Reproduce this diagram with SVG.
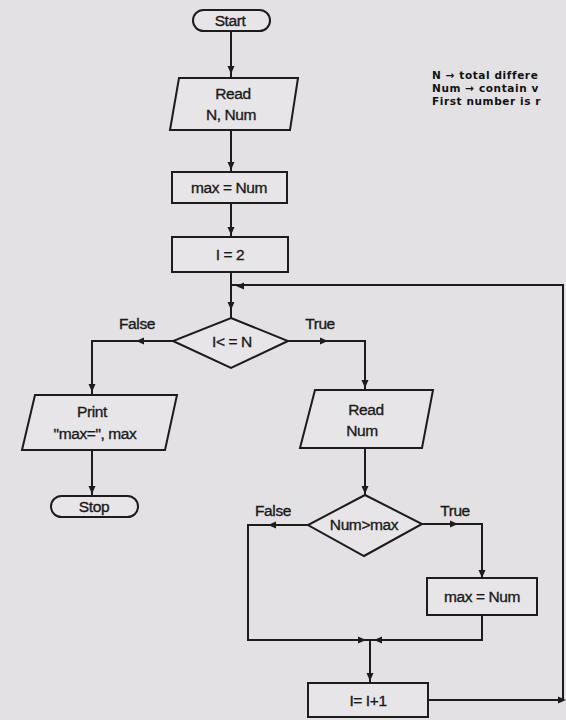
<svg xmlns="http://www.w3.org/2000/svg" xmlns:xlink="http://www.w3.org/1999/xlink" width="566" height="720" viewBox="0 0 566 720">
  <defs>
    <style>
      .bg { fill: #e3e1e3; }
      .shape { fill: #e7e5e7; stroke: #1c1c1c; stroke-width: 2; }
      .line { fill: none; stroke: #1c1c1c; stroke-width: 2; }
      .lbl { font-family: "Liberation Sans", Arial, sans-serif; font-size: 15.5px; fill: #1a1a1a; text-anchor: middle; letter-spacing: -0.4px; stroke: #1a1a1a; stroke-width: 0.35; }
      .note { font-family: "DejaVu Sans", "Liberation Sans", sans-serif; font-size: 10.5px; font-weight: bold; fill: #111; letter-spacing: 0.6px; }
    </style>
    <!-- filled arrowhead, tip at origin pointing along +x -->
    <path id="ah" d="M0,0 L-8,-3.5 L-8,3.5 Z" fill="#1c1c1c"/>
  </defs>

  <rect class="bg" x="0" y="0" width="566" height="720"/>

  <!-- connectors -->
  <g id="connectors">
    <path class="line" d="M231,31 V78"/>
    <use xlink:href="#ah" transform="translate(231,74) rotate(90)"/>
    <path class="line" d="M231,130 V172"/>
    <use xlink:href="#ah" transform="translate(231,170) rotate(90)"/>
    <path class="line" d="M231,203 V237"/>
    <use xlink:href="#ah" transform="translate(231,235) rotate(90)"/>
    <path class="line" d="M231,272 V318"/>
    <use xlink:href="#ah" transform="translate(231,310) rotate(90)"/>

    <!-- loop back from I = I+1 -->
    <path class="line" d="M428,700 H563 V285 H231"/>
    <use xlink:href="#ah" transform="translate(566,700)"/>
    <use xlink:href="#ah" transform="translate(236,286) rotate(180)"/>

    <!-- I<=N branches -->
    <path class="line" d="M173,341 H92 V395"/>
    <use xlink:href="#ah" transform="translate(136,341) rotate(180)"/>
    <use xlink:href="#ah" transform="translate(92,392) rotate(90)"/>
    <path class="line" d="M288,341 H365 V390"/>
    <use xlink:href="#ah" transform="translate(328,341)"/>
    <use xlink:href="#ah" transform="translate(365,388) rotate(90)"/>

    <path class="line" d="M92,450 V496"/>
    <use xlink:href="#ah" transform="translate(92,494) rotate(90)"/>

    <path class="line" d="M365,448 V495"/>
    <use xlink:href="#ah" transform="translate(365,494) rotate(90)"/>

    <!-- Num>max branches -->
    <path class="line" d="M308,525 H248 V640 H482 V615"/>
    <use xlink:href="#ah" transform="translate(268,525) rotate(180)"/>
    <path class="line" d="M422,524 H482 V578"/>
    <use xlink:href="#ah" transform="translate(458,524)"/>
    <use xlink:href="#ah" transform="translate(482,578) rotate(90)"/>
    <use xlink:href="#ah" transform="translate(366,640)"/>
    <use xlink:href="#ah" transform="translate(374,640) rotate(180)"/>
    <path class="line" d="M370,640 V683"/>
    <use xlink:href="#ah" transform="translate(370,681) rotate(90)"/>

    <text class="lbl" x="137" y="329">False</text>
    <text class="lbl" x="320" y="329">True</text>
    <text class="lbl" x="273" y="516">False</text>
    <text class="lbl" x="455" y="516">True</text>
  </g>

  <g id="start">
    <rect class="shape" x="193" y="10" width="77" height="21" rx="10.5"/>
    <text class="lbl" x="230" y="26">Start</text>
  </g>

  <g id="read-n-num">
    <polygon class="shape" points="179,78 298,78 290,130 170,130"/>
    <text class="lbl" x="233" y="99">Read</text>
    <text class="lbl" x="231" y="120">N, Num</text>
  </g>

  <g id="notes">
    <text class="note" x="432" y="79">N → total differe</text>
    <text class="note" x="432" y="92">Num → contain v</text>
    <text class="note" x="432" y="105">First number is r</text>
  </g>

  <g id="init-max">
    <rect class="shape" x="172" y="172" width="115" height="31"/>
    <text class="lbl" x="229" y="193">max = Num</text>
  </g>

  <g id="init-i">
    <rect class="shape" x="172" y="237" width="116" height="35"/>
    <text class="lbl" x="230" y="260">I = 2</text>
  </g>

  <g id="test-i">
    <polygon class="shape" points="231,318 288,341 231,368 173,341"/>
    <text class="lbl" x="232" y="347">I&lt; = N</text>
  </g>

  <g id="print">
    <polygon class="shape" points="35,395 177,395 165,450 22,450"/>
    <text class="lbl" x="92" y="417">Print</text>
    <text class="lbl" x="95" y="439">"max=", max</text>
  </g>

  <g id="stop">
    <rect class="shape" x="51" y="496" width="87" height="21" rx="10.5"/>
    <text class="lbl" x="94" y="512">Stop</text>
  </g>

  <g id="read-num">
    <polygon class="shape" points="315,390 433,390 422,448 300,448"/>
    <text class="lbl" x="366" y="415">Read</text>
    <text class="lbl" x="362" y="436">Num</text>
  </g>

  <g id="test-max">
    <polygon class="shape" points="365,495 422,524 364,556 308,525"/>
    <text class="lbl" x="364" y="530">Num&gt;max</text>
  </g>

  <g id="update-max">
    <rect class="shape" x="427" y="578" width="110" height="37"/>
    <text class="lbl" x="482" y="602">max = Num</text>
  </g>

  <g id="increment">
    <rect class="shape" x="308" y="683" width="120" height="34"/>
    <text class="lbl" x="368" y="706">I= I+1</text>
  </g>
</svg>
